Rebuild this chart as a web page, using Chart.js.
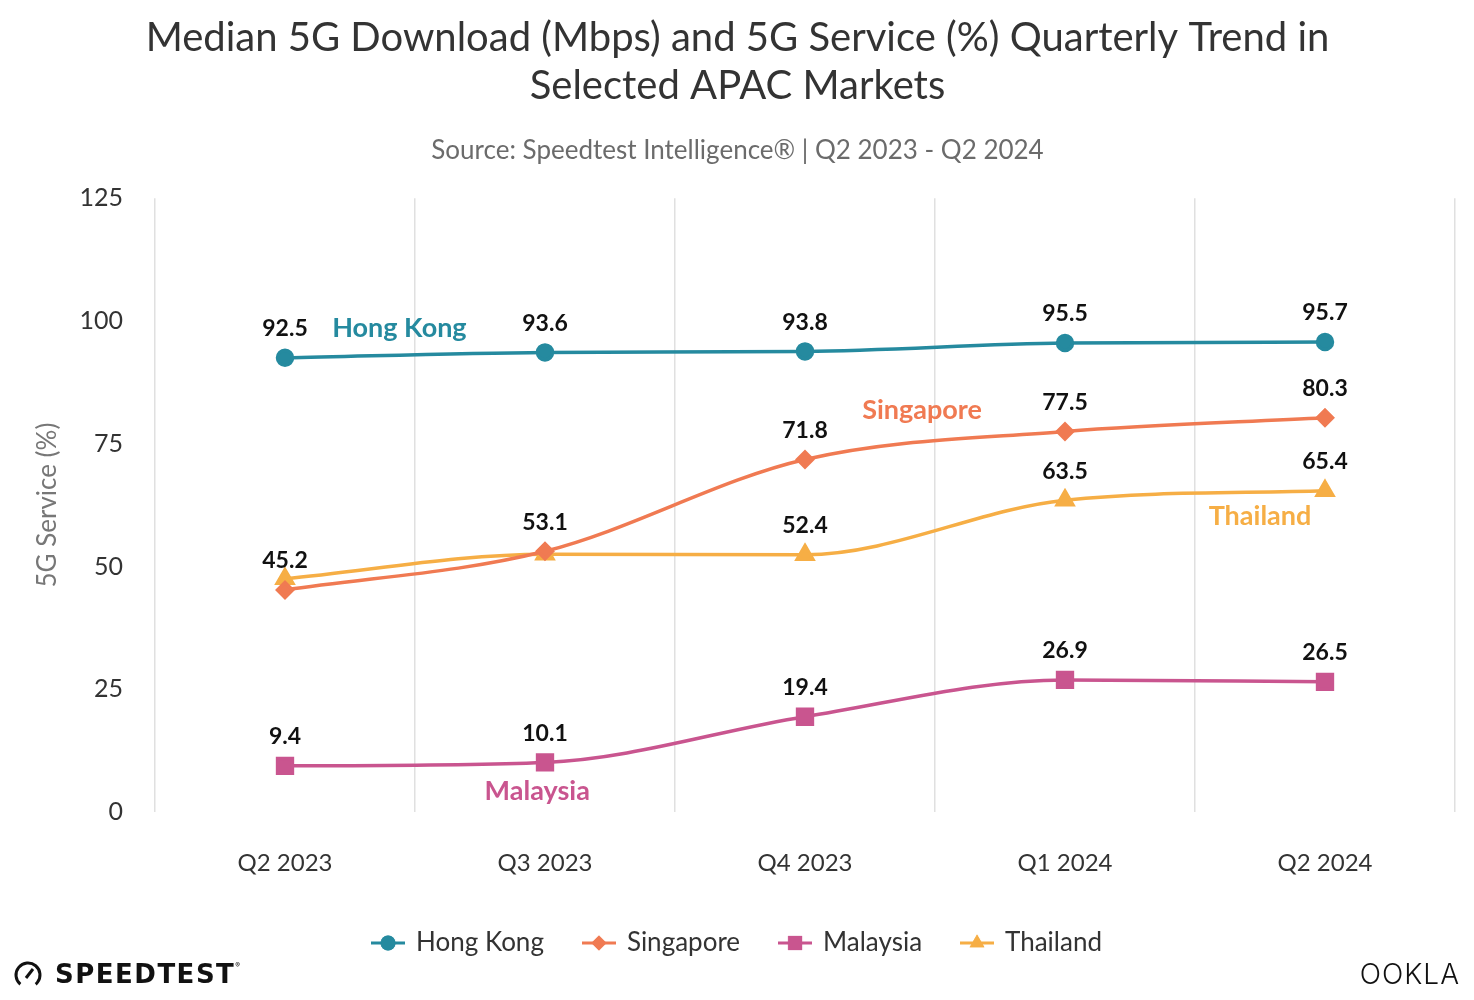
<!DOCTYPE html>
<html>
<head>
<meta charset="utf-8">
<script src="https://cdn.jsdelivr.net/npm/chart.js@4.4.1/dist/chart.umd.min.js"></script>
<style>
  html, body { margin: 0; padding: 0; background: #fff; }
  #wrap { width: 1474px; height: 1000px; }
</style>
</head>
<body>
<div id="wrap"><canvas id="chart" width="1474" height="1000"></canvas></div>
<script>
const quarters = ['Q2 2023', 'Q3 2023', 'Q4 2023', 'Q1 2024', 'Q2 2024'];
const hongKong = [92.5, 93.6, 93.8, 95.5, 95.7];
const singapore = [45.2, 53.1, 71.8, 77.5, 80.3];
const malaysia = [9.4, 10.1, 19.4, 26.9, 26.5];
const thailand = [47.5, 52.5, 52.4, 63.5, 65.4];
// the original leaves out the thailand numbers where they would sit on singapore's
const thailandLabels = [false, false, true, true, true];
const yTicks = [0, 25, 50, 75, 100, 125];

const FONT = 'Lato';
const colors = { hk: '#258a9f', sg: '#f07a52', my: '#c9558f', th: '#f6ae45' };

// series names written next to the lines, placed in data units (category index, value)
const seriesNames = [
  { text: 'Hong Kong', color: colors.hk, at: [0.44, 98.6] },
  { text: 'Singapore', color: colors.sg, at: [2.45, 81.8] },
  { text: 'Thailand', color: colors.th, at: [3.75, 60.2] },
  { text: 'Malaysia', color: colors.my, at: [0.97, 4.3] }
];

// little line+marker pictures for the legend
function legendIcon(color, style) {
  const c = document.createElement('canvas');
  c.width = 34; c.height = 20;
  const g = c.getContext('2d');
  g.strokeStyle = color; g.fillStyle = color; g.lineWidth = 3;
  g.beginPath(); g.moveTo(0, 10); g.lineTo(34, 10); g.stroke();
  Chart.helpers.drawPoint(g, { pointStyle: style, radius: style == 'rect' ? 10 : (style == 'triangle' ? 8.5 : 7.5), rotation: 0, borderWidth: 0 }, 17, 10);
  g.fill();
  return c;
}

function series(label, data, color, style, radius, showLabels) {
  return {
    label: label,
    data: data,
    borderColor: color,
    backgroundColor: color,
    pointBackgroundColor: color,
    pointBorderColor: color,
    pointStyle: style,
    pointRadius: radius,
    pointHoverRadius: radius,
    borderWidth: 3.5,
    cubicInterpolationMode: 'monotone',
    showLabels: showLabels,
    legendIcon: legendIcon(color, style)
  };
}

const valueLabels = {
  id: 'valueLabels',
  afterDatasetsDraw(chart) {
    const ctx = chart.ctx;
    ctx.save();
    ctx.font = 'bold 23px ' + FONT;
    ctx.fillStyle = '#111';
    ctx.textAlign = 'center';
    ctx.textBaseline = 'middle';
    chart.data.datasets.forEach((ds, i) => {
      const meta = chart.getDatasetMeta(i);
      meta.data.forEach((pt, j) => {
        if (ds.showLabels && !ds.showLabels[j]) return;
        ctx.fillText(ds.data[j].toFixed(1), pt.x, pt.y - 29);
      });
    });
    ctx.font = 'bold 27px ' + FONT;
    const x = chart.scales.x;
    const step = x.getPixelForValue(1) - x.getPixelForValue(0);
    seriesNames.forEach(n => {
      ctx.fillStyle = n.color;
      ctx.fillText(n.text, x.getPixelForValue(0) + n.at[0] * step, chart.scales.y.getPixelForValue(n.at[1]));
    });
    ctx.restore();
  }
};

// keep the legend from growing with its big item padding
const legendFit = {
  id: 'legendFit',
  beforeInit(chart) {
    const fit = chart.legend.fit;
    chart.legend.fit = function () {
      fit.call(this);
      this.height = 80;
    };
  }
};

const logos = {
  id: 'logos',
  afterDraw(chart) {
    const ctx = chart.ctx;
    ctx.save();
    // speedtest gauge
    ctx.strokeStyle = '#111';
    ctx.lineWidth = 3;
    ctx.beginPath();
    ctx.arc(28, 975, 12, Math.PI * 0.72, Math.PI * 2.28);
    ctx.stroke();
    ctx.beginPath();
    ctx.moveTo(26, 978); ctx.lineTo(33, 969); ctx.stroke();
    ctx.fillStyle = '#111';
    ctx.font = 'bold 26px "DejaVu Sans"';
    ctx.letterSpacing = '1.5px';
    ctx.textBaseline = 'middle';
    ctx.textAlign = 'left';
    ctx.fillText('SPEEDTEST', 55, 976);
    const w = ctx.measureText('SPEEDTEST').width;
    ctx.letterSpacing = '0px';
    ctx.font = '7px Inter';
    ctx.fillText('®', 55 + w, 966);
    ctx.font = '300 28px Inter';
    ctx.letterSpacing = '1px';
    ctx.textAlign = 'right';
    ctx.fillText('OOKLA', 1460, 976);
    ctx.restore();
  }
};

new Chart(document.getElementById('chart'), {
  type: 'line',
  data: {
    labels: quarters,
    datasets: [
      series('Hong Kong', hongKong, colors.hk, 'circle', 7.5, null),
      series('Singapore', singapore, colors.sg, 'rectRot', 7.5, null),
      series('Malaysia', malaysia, colors.my, 'rect', 10.5, null),
      series('Thailand', thailand, colors.th, 'triangle', 9, thailandLabels)
    ]
  },
  options: {
    responsive: false,
    animation: false,
    devicePixelRatio: 1,
    layout: { padding: { left: 20, right: 19, top: 6, bottom: 30 } },
    plugins: {
      title: {
        display: true,
        text: ['Median 5G Download (Mbps) and 5G Service (%) Quarterly Trend in', 'Selected APAC Markets'],
        color: '#333',
        font: { family: FONT, size: 40, weight: 'normal', lineHeight: 1.2 },
        padding: { top: 8, bottom: 0 }
      },
      subtitle: {
        display: true,
        text: 'Source: Speedtest Intelligence® | Q2 2023 - Q2 2024',
        color: '#6b6b6b',
        font: { family: FONT, size: 26, weight: 'normal' },
        padding: { top: 25, bottom: 32 }
      },
      legend: {
        position: 'bottom',
        labels: {
          color: '#333',
          font: { family: FONT, size: 26 },
          usePointStyle: true,
          pointStyleWidth: 30,
          padding: 40,
          generateLabels(chart) {
            return chart.data.datasets.map((ds, i) => ({
              text: ds.label,
              pointStyle: ds.legendIcon,
              fillStyle: ds.borderColor,
              strokeStyle: ds.borderColor,
              lineWidth: 0,
              fontColor: '#333',
              hidden: false,
              datasetIndex: i
            }));
          }
        }
      },
      tooltip: { enabled: false }
    },
    scales: {
      x: {
        offset: true,
        grid: { display: true, offset: true, color: '#e0e0e0', lineWidth: 1.5, drawTicks: false },
        border: { display: false },
        ticks: { color: '#333', font: { family: FONT, size: 24 }, padding: 37 },
        afterFit(scale) { scale.height = 78; }
      },
      y: {
        min: yTicks[0],
        max: yTicks[yTicks.length - 1],
        afterBuildTicks(scale) { scale.ticks = yTicks.map(v => ({ value: v })); },
        afterFit(scale) { scale.width = 135; },
        grid: { display: false, drawTicks: false },
        border: { display: false },
        title: { display: true, text: '5G Service (%)', color: '#777', font: { family: FONT, size: 26 }, padding: { top: 12, bottom: 0 } },
        ticks: { color: '#333', font: { family: FONT, size: 25 }, padding: 32 }
      }
    }
  },
  plugins: [legendFit, valueLabels, logos]
});
</script>
</body>
</html>
